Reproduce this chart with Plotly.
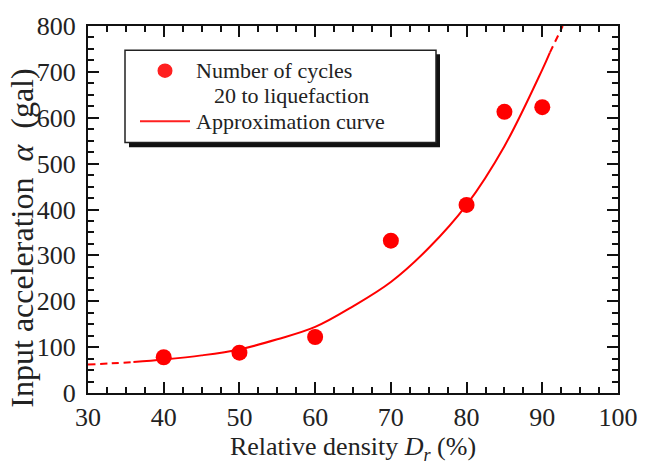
import plotly.graph_objects as go

# Measured points: relative density (%) vs. input acceleration (gal)
density = [40, 50, 60, 70, 80, 85, 90]
acceleration = [78, 88, 122, 332, 410, 613, 623]

# Approximation curve, sampled along its length
curve_x = [30, 33, 36, 40, 45, 50, 55, 60, 65, 70, 75, 80, 85, 90, 91, 92.7]
curve_y = [62, 64.5, 67.5, 73, 82, 95, 117, 144, 189, 242, 316, 410, 538, 705, 742, 800]

# solid part of the curve covers the tested range; the ends are dashed
solid_from, solid_to = 2, 14

x_ticks = [30, 40, 50, 60, 70, 80, 90, 100]
y_ticks = [0, 100, 200, 300, 400, 500, 600, 700, 800]

points_label = ["Number of cycles", "20 to liquefaction"]
curve_label = "Approximation curve"
x_title = "Relative density <i>D<sub>r</sub></i> (%)"
y_title = "Input acceleration\u00a0\u00a0<i>α</i>\u00a0\u00a0(gal)"

RED = "#ff0000"
INK = "#222222"
FONT = "Liberation Serif"

fig = go.Figure()

fig.add_trace(go.Scatter(
    x=density, y=acceleration, mode="markers",
    marker=dict(color=RED, size=16, line=dict(width=0)),
    name=" ".join(points_label), showlegend=False,
))
fig.add_trace(go.Scatter(
    x=curve_x[solid_from:solid_to + 1], y=curve_y[solid_from:solid_to + 1],
    mode="lines", line=dict(color=RED, width=2, shape="spline", smoothing=1.0),
    name=curve_label, showlegend=False,
))
for seg in (slice(0, solid_from + 1), slice(solid_to, None)):
    fig.add_trace(go.Scatter(
        x=curve_x[seg], y=curve_y[seg], mode="lines",
        line=dict(color=RED, width=2, dash="7px,5px", shape="spline", smoothing=1.0),
        showlegend=False, hoverinfo="skip",
    ))

W, H = 652, 466
ml, mr, mt, mb = 88, 34, 20, 68
pw, ph = W - ml - mr, H - mt - mb


def px_x(p):
    return (p - ml) / pw


def px_y(p):
    return (H - mb - p) / ph


# legend frame with a drop shadow
fig.add_shape(type="rect", xref="paper", yref="paper",
              x0=px_x(129), x1=px_x(440), y0=px_y(145), y1=px_y(49),
              fillcolor="#111111", line=dict(width=0), layer="above")
fig.add_shape(type="rect", xref="paper", yref="paper",
              x0=px_x(125), x1=px_x(436), y0=px_y(140), y1=px_y(45),
              fillcolor="white", line=dict(color=INK, width=1.5), layer="above")

# legend rows: marker sample, two-line caption, line sample
row_y = [66, 92, 118]
fig.add_shape(type="circle", xref="paper", yref="paper",
              x0=px_x(157.5), x1=px_x(172.5), y0=px_y(row_y[0] + 7.5), y1=px_y(row_y[0] - 7.5),
              fillcolor="#ff2020", line=dict(width=0), layer="above")
fig.add_shape(type="line", xref="paper", yref="paper",
              x0=px_x(140), x1=px_x(190), y0=px_y(row_y[2]), y1=px_y(row_y[2]),
              line=dict(color="#ff2020", width=2), layer="above")

for text, x, y in ((points_label[0], 195, row_y[0]), (points_label[1], 213, row_y[1]),
                   (curve_label, 195, row_y[2])):
    fig.add_annotation(text=text, xref="paper", yref="paper", x=px_x(x), y=px_y(y),
                       xanchor="left", yanchor="middle", showarrow=False, borderpad=0,
                       font=dict(family=FONT, size=22, color=INK))

# vertical axis title, set slightly low as in the original layout
fig.add_annotation(text=y_title, xref="paper", yref="paper", x=px_x(22), y=px_y(239),
                   xanchor="center", yanchor="middle", textangle=-90, showarrow=False,
                   font=dict(family=FONT, size=32, color=INK))

axis_common = dict(
    showline=True, linecolor="#111111", linewidth=2, mirror="allticks",
    ticks="inside", ticklen=11, tickwidth=1.5, tickcolor="#111111",
    showgrid=False, zeroline=False,
    tickfont=dict(family=FONT, size=26, color=INK),
)

fig.update_xaxes(
    range=[30, 100], tickvals=x_ticks,
    minor=dict(ticks="inside", ticklen=6, tickwidth=1.5, tickcolor="#111111", dtick=2.5, showgrid=False),
    title_text=x_title, title_standoff=4,
    title_font=dict(family=FONT, size=26, color=INK),
    **axis_common,
)
fig.update_yaxes(
    range=[0, 800], tickvals=y_ticks, ticklabelstandoff=5,
    minor=dict(ticks="inside", ticklen=6, tickwidth=1.5, tickcolor="#111111", dtick=25, showgrid=False),
    **axis_common,
)

fig.update_layout(
    width=W, height=H,
    margin=dict(l=ml, r=mr, t=mt, b=mb),
    paper_bgcolor="white", plot_bgcolor="white",
    font=dict(family=FONT, color=INK),
    showlegend=False,
)

fig.write_html("out.html")
